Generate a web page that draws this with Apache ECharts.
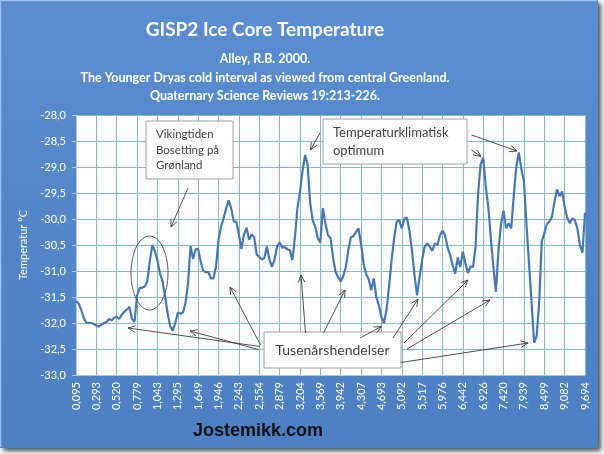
<!DOCTYPE html>
<html><head><meta charset="utf-8">
<script src="https://cdn.jsdelivr.net/npm/echarts@6/dist/echarts.min.js"></script>
<style>html,body{margin:0;padding:0;background:#fff}#c{width:604px;height:454px}</style>
</head><body><div id="c"></div>
<script>
// Tick labels of the x axis (age, thousand years BP) – one every 8 samples
const xLabels = ['0,095','0,293','0,520','0,779','1,043','1,295','1,649','1,946','2,243','2,554','2,879','3,204','3,569','3,942','4,307','4,693','5,092','5,517','5,976','6,442','6,926','7,420','7,939','8,499','9,082','9,694'];
const samplesPerTick = 8;
// Temperature (°C)
const temperature = [
-31.58,-31.62,-31.74,-31.90,-31.99,-32.00,-32.00,-32.02,
-32.05,-32.07,-32.03,-32.00,-31.98,-31.92,-31.95,-31.90,
-31.88,-31.92,-31.84,-31.78,-31.74,-31.69,-31.92,-31.98,
-31.47,-31.33,-31.32,-31.30,-31.20,-30.81,-30.50,-30.62,
-30.79,-31.05,-31.20,-31.49,-31.81,-32.06,-32.15,-32.00,
-31.80,-31.82,-31.80,-31.62,-31.25,-30.52,-30.77,-30.58,
-30.58,-30.82,-31.00,-31.02,-31.02,-31.14,-31.14,-30.92,
-30.40,-30.15,-29.98,-29.80,-29.64,-29.80,-30.05,-30.05,
-30.30,-30.58,-30.30,-30.17,-30.40,-30.30,-30.35,-30.68,
-30.73,-30.78,-30.75,-30.53,-30.78,-30.92,-30.78,-30.53,
-30.45,-30.55,-30.54,-30.58,-30.60,-30.79,-30.37,-29.79,
-29.48,-29.08,-28.77,-28.95,-29.68,-30.02,-30.15,-30.37,
-30.45,-29.79,-30.08,-30.31,-30.37,-30.74,-31.02,-31.12,
-31.20,-31.10,-30.93,-30.60,-30.35,-30.33,-30.25,-30.18,
-30.48,-30.86,-31.06,-31.16,-31.37,-31.14,-31.50,-31.66,
-31.88,-32.00,-31.75,-31.30,-30.79,-30.37,-30.05,-30.02,
-30.18,-30.00,-29.97,-30.22,-30.60,-31.08,-31.47,-31.12,
-30.79,-30.53,-30.47,-30.53,-30.61,-30.47,-30.50,-30.32,
-30.22,-30.31,-30.55,-30.69,-30.89,-31.05,-30.74,-30.92,
-30.63,-30.85,-31.04,-30.91,-30.92,-30.53,-29.50,-28.95,
-28.82,-29.37,-29.76,-30.37,-30.92,-31.40,-30.60,-30.10,
-29.84,-30.18,-30.08,-30.18,-29.56,-29.00,-28.72,-29.04,
-29.27,-30.10,-30.85,-31.60,-32.38,-32.25,-31.60,-30.43,
-30.28,-30.10,-30.05,-29.96,-29.67,-29.43,-29.56,-29.47,
-29.76,-29.97,-30.08,-29.99,-30.02,-30.18,-30.50,-30.65,
-29.88];
const yTicks = { min: -33, max: -28, step: 0.5 };
const titleText = 'GISP2 Ice Core Temperature';
const subtitleLines = ['Alley, R.B. 2000.', 'The Younger Dryas cold interval as viewed from central Greenland.', 'Quaternary Science Reviews 19:213-226.'];
const yName = 'Temperatur °C';
const footer = 'Jostemikk.com';
const notes = { viking: 'Vikingtiden\nBosetting på\nGrønland', optimum: 'Temperaturklimatisk\noptimum', millennial: 'Tusenårshendelser' };

const categories = temperature.map((_, i) => String(i));
const FONT = 'Lato, "Open Sans", sans-serif';

function arrow(x1, y1, x2, y2) {
  const a = Math.atan2(y2 - y1, x2 - x1), L = 8, s = 0.42;
  const p1 = [x2 - L * Math.cos(a - s), y2 - L * Math.sin(a - s)];
  const p2 = [x2 - L * Math.cos(a + s), y2 - L * Math.sin(a + s)];
  return [
    { type: 'line', z: 100, shape: { x1, y1, x2, y2 }, style: { stroke: '#3b3b3b', lineWidth: 0.9 } },
    { type: 'polyline', z: 100, shape: { points: [p1, [x2, y2], p2] }, style: { stroke: '#3b3b3b', lineWidth: 0.9, fill: null } }
  ];
}
function box(x, y, w, h) {
  return { type: 'rect', z: 90, shape: { x, y, width: w, height: h }, style: { fill: '#ffffff', stroke: '#a0a0a0', lineWidth: 1 } };
}

const elements = [
  { type: 'rect', z: -10, shape: { x: 0, y: 0, width: 598, height: 448 },
    style: { fill: new echarts.graphic.LinearGradient(0, 0, 0, 1, [{ offset: 0, color: '#5a8ed1' }, { offset: 1, color: '#4c80c2' }]),
      shadowBlur: 5, shadowOffsetX: 3, shadowOffsetY: 3, shadowColor: 'rgba(0,0,0,0.7)' } },
  { type: 'polyline', z: -9, shape: { points: [[0.5, 447], [0.5, 0.5], [597, 0.5]] }, style: { stroke: '#9fc0ea', lineWidth: 1.5, fill: null } },
  box(146, 121, 87, 58),
  { type: 'text', z: 95, style: { x: 156, y: 127, text: notes.viking, fill: '#404040', font: '11.5px ' + FONT, lineHeight: 15.5 } },
  box(323, 119, 144, 45),
  { type: 'text', z: 95, style: { x: 333, y: 124, text: notes.optimum, fill: '#404040', font: '13px ' + FONT, lineHeight: 18 } },
  box(264, 332, 137, 36),
  { type: 'text', z: 95, style: { x: 332.5, y: 350, text: notes.millennial, fill: '#404040', font: '14px ' + FONT, align: 'center', verticalAlign: 'middle' } },
  { type: 'ellipse', z: 100, shape: { cx: 149.5, cy: 273, rx: 18.5, ry: 37 }, style: { stroke: '#555555', lineWidth: 1, fill: null } },
  { type: 'text', z: 95, style: { x: 258, y: 431, text: footer, fill: '#111111', font: 'bold 18px "Liberation Sans", Arial, sans-serif', align: 'center', verticalAlign: 'middle' } },
  ...arrow(188, 188, 171, 227),
  ...arrow(320, 133, 310.5, 150),
  ...arrow(471.5, 135, 517, 151),
  ...arrow(471.5, 150, 481, 156.5),
  ...arrow(260, 346.5, 128, 328),
  ...arrow(258.5, 349.5, 190, 331),
  ...arrow(260.5, 345, 230, 287),
  ...arrow(305.5, 333, 301, 275),
  ...arrow(323.5, 333, 345, 290),
  ...arrow(360, 338, 381.5, 326.5),
  ...arrow(393, 338, 418, 299),
  ...arrow(404, 343, 468, 280),
  ...arrow(407, 349, 490, 300),
  ...arrow(401, 362.5, 528, 343)
];

const chart = echarts.init(document.getElementById('c'), null, { renderer: 'canvas' });
chart.setOption({
  animation: false,
  backgroundColor: '#ffffff',
  title: [
    { text: titleText, left: 260, top: 15, textAlign: 'center', textStyle: { color: '#ffffff', fontFamily: FONT, fontSize: 19, fontWeight: 'bold' } },
    { text: subtitleLines.join('\n'), left: 260, top: 45, textAlign: 'center',
      textStyle: { color: '#ffffff', fontFamily: FONT, fontSize: 12.5, fontWeight: 'bold', lineHeight: 18.5 } }
  ],
  grid: { left: 76, right: 19, top: 115, bottom: 79, show: true, backgroundColor: '#ffffff', borderWidth: 0 },
  xAxis: {
    type: 'category', data: categories, boundaryGap: false,
    axisLine: { lineStyle: { color: '#b8c8d8', width: 1 } },
    axisTick: { show: false },
    axisLabel: { interval: samplesPerTick - 1, rotate: 90, margin: 7, color: '#ffffff', fontFamily: FONT, fontSize: 11,
      formatter: (v, i) => xLabels[Math.round(i / samplesPerTick)] },
    splitLine: { show: true, interval: samplesPerTick - 1, lineStyle: { color: '#83bcbc', width: 1 } }
  },
  yAxis: {
    type: 'value', min: yTicks.min, max: yTicks.max, interval: yTicks.step,
    name: yName, nameLocation: 'middle', nameRotate: 90, nameGap: 44,
    nameTextStyle: { color: '#ffffff', fontFamily: FONT, fontSize: 11 },
    axisLine: { show: true, lineStyle: { color: '#b8c8d8' } },
    axisTick: { show: true, length: 4, lineStyle: { color: '#b8c8d8' } },
    axisLabel: { color: '#ffffff', fontFamily: FONT, fontSize: 11, margin: 10, formatter: v => v.toFixed(1).replace('.', ',') },
    splitLine: { show: true, lineStyle: { color: '#83bcbc', width: 1 } }
  },
  series: [{ type: 'line', data: temperature, showSymbol: false, symbol: 'none',
    lineStyle: { color: '#4677b6', width: 2.2 }, z: 5 }],
  graphic: { elements }
});
</script></body></html>
